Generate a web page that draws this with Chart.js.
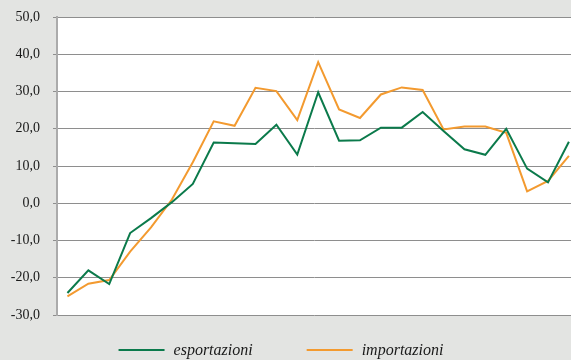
<!DOCTYPE html>
<html>
<head>
<meta charset="utf-8">
<script src="https://cdn.jsdelivr.net/npm/chart.js@4/dist/chart.umd.min.js"></script>
<style>
  html, body { margin: 0; padding: 0; background: #e3e4e2; overflow: hidden; }
  #wrap { width: 571px; height: 360px; position: relative; }
</style>
</head>
<body>
<div id="wrap"><canvas id="c" width="571" height="360"></canvas></div>
<script>
// Periods (index along the horizontal axis; no labels are printed)
const periodi = [0, 1, 2, 3, 4, 5, 6, 7, 8, 9, 10, 11, 12, 13, 14, 15, 16, 17, 18, 19, 20, 21, 22, 23, 24];

// Year-on-year change, %
const esportazioni = [-24.1, -18.0, -21.7, -8.0, -4.0, 0.3, 5.2, 16.3, 16.1, 15.9, 21.1, 13.1, 29.8,
                      16.8, 16.9, 20.3, 20.3, 24.5, 19.4, 14.5, 13.0, 20.0, 9.3, 5.6, 16.5];
const importazioni = [-25.0, -21.6, -20.6, -13.0, -6.5, 1.0, 11.0, 22.0, 20.8, 31.0, 30.1, 22.3, 37.9,
                      25.2, 22.9, 29.2, 31.1, 30.4, 19.8, 20.6, 20.6, 18.9, 3.2, 6.0, 12.7];

// Y axis ticks
const yTicks = [-30, -20, -10, 0, 10, 20, 30, 40, 50];

const serie = [
  { label: 'esportazioni', values: esportazioni, color: '#0b7a4b' },
  { label: 'importazioni', values: importazioni, color: '#f39a2f' }
];

// Gray page, white plotting area
const sfondo = {
  id: 'sfondo',
  beforeDraw(chart) {
    const { ctx, chartArea: a } = chart;
    ctx.save();
    ctx.fillStyle = '#e3e4e2';
    ctx.fillRect(0, 0, chart.width, chart.height);
    ctx.fillStyle = '#ffffff';
    ctx.fillRect(a.left, a.top, a.right - a.left, a.bottom - a.top);
    ctx.restore();
  }
};

// Legend drawn below the plot: short line + italic label for each series
const legenda = {
  id: 'legenda',
  afterDraw(chart) {
    const ctx = chart.ctx;
    const lineLen = 46, gapText = 9, gapItem = 54, y = 350, center = 281;
    ctx.save();
    ctx.font = 'italic 16px "Liberation Serif", "DejaVu Serif", serif';
    ctx.textBaseline = 'middle';
    const items = chart.data.datasets.map(ds => ({
      ds, w: lineLen + gapText + ctx.measureText(ds.label).width
    }));
    const total = items.reduce((s, it) => s + it.w, 0) + gapItem * (items.length - 1);
    let x = center - total / 2;
    items.forEach(it => {
      ctx.strokeStyle = it.ds.borderColor;
      ctx.lineWidth = 2;
      ctx.beginPath();
      ctx.moveTo(x, y);
      ctx.lineTo(x + lineLen, y);
      ctx.stroke();
      ctx.fillStyle = '#1a1a1a';
      ctx.fillText(it.ds.label, x + lineLen + gapText, y + 1);
      x += it.w + gapItem;
    });
    ctx.restore();
  }
};

new Chart(document.getElementById('c'), {
  type: 'line',
  data: {
    datasets: serie.map(s => ({
      label: s.label,
      data: s.values.map((v, i) => ({ x: periodi[i], y: v })),
      borderColor: s.color,
      backgroundColor: s.color,
      borderWidth: 2,
      pointRadius: 0,
      tension: 0,
      fill: false
    }))
  },
  options: {
    responsive: false,
    animation: false,
    devicePixelRatio: 1,
    layout: { padding: { top: 17, right: 0, bottom: 45, left: 0 } },
    plugins: { legend: { display: false }, tooltip: { enabled: false } },
    scales: {
      x: {
        type: 'linear',
        min: -0.5,
        max: 24.1,
        display: false
      },
      y: {
        min: yTicks[0],
        max: yTicks[yTicks.length - 1],
        afterFit(scale) {
          scale.width = 57;
          scale.paddingTop = 0;
          scale.paddingBottom = 0;
        },
        afterBuildTicks(scale) { scale.ticks = yTicks.map(v => ({ value: v })); },
        ticks: {
          padding: 13,
          color: '#1a1a1a',
          font: { family: '"Liberation Serif", "DejaVu Serif", serif', size: 14 },
          callback: v => v.toFixed(1).replace('.', ',')
        },
        grid: {
          color: '#8e8e8e',
          lineWidth: 1,
          tickLength: 4,
          drawTicks: true
        },
        border: { color: '#ababab', width: 2 }
      }
    }
  },
  plugins: [sfondo, legenda]
});
</script>
</body>
</html>
